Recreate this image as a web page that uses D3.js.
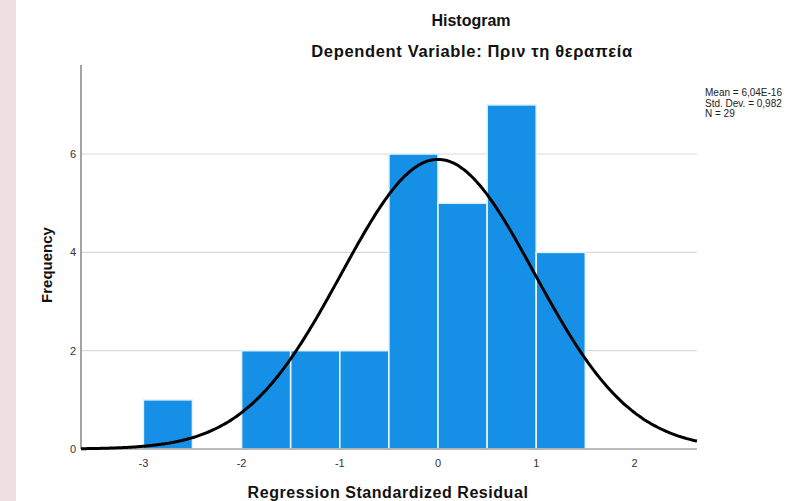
<!DOCTYPE html>
<html>
<head>
<meta charset="utf-8">
<script src="https://cdn.jsdelivr.net/npm/d3@7"></script>
<style>
  html, body { margin: 0; padding: 0; background: #ffffff; }
  svg { display: block; font-family: "Liberation Sans", Arial, sans-serif; }
</style>
</head>
<body>
<svg id="chart" width="793" height="501"></svg>
<script>
// Residual histogram: bin edges (width 0.5) and counts per bin
const binStarts = [-3.0, -2.0, -1.5, -1.0, -0.5, 0.0, 0.5, 1.0];
const binCounts = [1, 2, 2, 2, 6, 5, 7, 4];
const binWidth = 0.5;

// Summary statistics of the residuals
const statMean = 6.04e-16;
const statSd = 0.982;
const statN = 29;
const statLabels = ["Mean = 6,04E-16", "Std. Dev. = 0,982", "N = 29"];

// Axis ticks
const xTicks = [-3, -2, -1, 0, 1, 2];
const yTicks = [0, 2, 4, 6];

const svg = d3.select("#chart");

// Pale side strip on the left edge
svg.append("rect").attr("x", 0).attr("y", 0).attr("width", 16).attr("height", 501)
  .attr("fill", "#efdfe2");

const plotL = 81, plotR = 697, plotT = 65, plotB = 449;

const x = d3.scaleLinear().domain([-3.635, 2.637]).range([plotL, plotR]);
const y = d3.scaleLinear().domain([0, 7.81]).range([plotB, plotT]);

// Horizontal gridlines
svg.append("g").selectAll("line").data(yTicks.filter(d => d > 0)).join("line")
  .attr("x1", plotL).attr("x2", plotR)
  .attr("y1", d => y(d)).attr("y2", d => y(d))
  .attr("stroke", "#d9d9d9").attr("stroke-width", 1.2);

// Bars
svg.append("g").selectAll("rect").data(binStarts.map((s, i) => ({ s, c: binCounts[i] }))).join("rect")
  .attr("x", d => x(d.s))
  .attr("width", d => x(d.s + binWidth) - x(d.s))
  .attr("y", d => y(d.c))
  .attr("height", d => y(0) - y(d.c))
  .attr("fill", "#1590e6")
  .attr("stroke", "#e6f2fc")
  .attr("stroke-width", 1.6);

// Y axis line and x axis baseline
svg.append("line").attr("x1", plotL).attr("x2", plotL).attr("y1", plotT).attr("y2", plotB)
  .attr("stroke", "#8c8c8c").attr("stroke-width", 1.6);
svg.append("line").attr("x1", plotL).attr("x2", plotR).attr("y1", plotB).attr("y2", plotB)
  .attr("stroke", "#a6a6a6").attr("stroke-width", 1.4);

// Normal curve scaled to counts
const scaleK = statN * binWidth / (statSd * Math.sqrt(2 * Math.PI));
const curvePts = d3.range(0, 301).map(i => {
  const v = x.domain()[0] + (x.domain()[1] - x.domain()[0]) * i / 300;
  const z = (v - statMean) / statSd;
  return [v, scaleK * Math.exp(-0.5 * z * z)];
});
svg.append("path").datum(curvePts)
  .attr("d", d3.line().x(d => x(d[0])).y(d => y(d[1])).curve(d3.curveBasis))
  .attr("fill", "none").attr("stroke", "#000").attr("stroke-width", 3);

// Tick labels
svg.append("g").selectAll("text").data(xTicks).join("text")
  .attr("x", d => x(d)).attr("y", 467)
  .attr("text-anchor", "middle").attr("font-size", 11).attr("fill", "#333")
  .text(d => d);
svg.append("g").selectAll("text").data(yTicks).join("text")
  .attr("x", 76).attr("y", d => y(d) + 4)
  .attr("text-anchor", "end").attr("font-size", 11).attr("fill", "#333")
  .text(d => d);

// Titles
svg.append("text").attr("x", 471).attr("y", 26).attr("text-anchor", "middle")
  .attr("font-size", 16).attr("font-weight", "bold").attr("fill", "#111").text("Histogram");
svg.append("text").attr("x", 472).attr("y", 57).attr("text-anchor", "middle")
  .attr("font-size", 16.5).attr("font-weight", "bold").attr("fill", "#111")
  .attr("letter-spacing", 0.65)
  .text("Dependent Variable: Πριν τη θεραπεία");

// Axis titles
svg.append("text").attr("x", 388).attr("y", 498).attr("text-anchor", "middle")
  .attr("font-size", 16).attr("font-weight", "bold").attr("fill", "#111")
  .attr("letter-spacing", 0.55)
  .text("Regression Standardized Residual");
svg.append("text").attr("transform", "translate(52,265) rotate(-90)").attr("text-anchor", "middle")
  .attr("font-size", 15).attr("font-weight", "bold").attr("fill", "#111")
  .text("Frequency");

// Statistics legend
svg.append("g").selectAll("text").data(statLabels).join("text")
  .attr("x", 705).attr("y", (d, i) => 96 + i * 10.5)
  .attr("font-size", 10).attr("fill", "#222")
  .text(d => d);
</script>
</body>
</html>
